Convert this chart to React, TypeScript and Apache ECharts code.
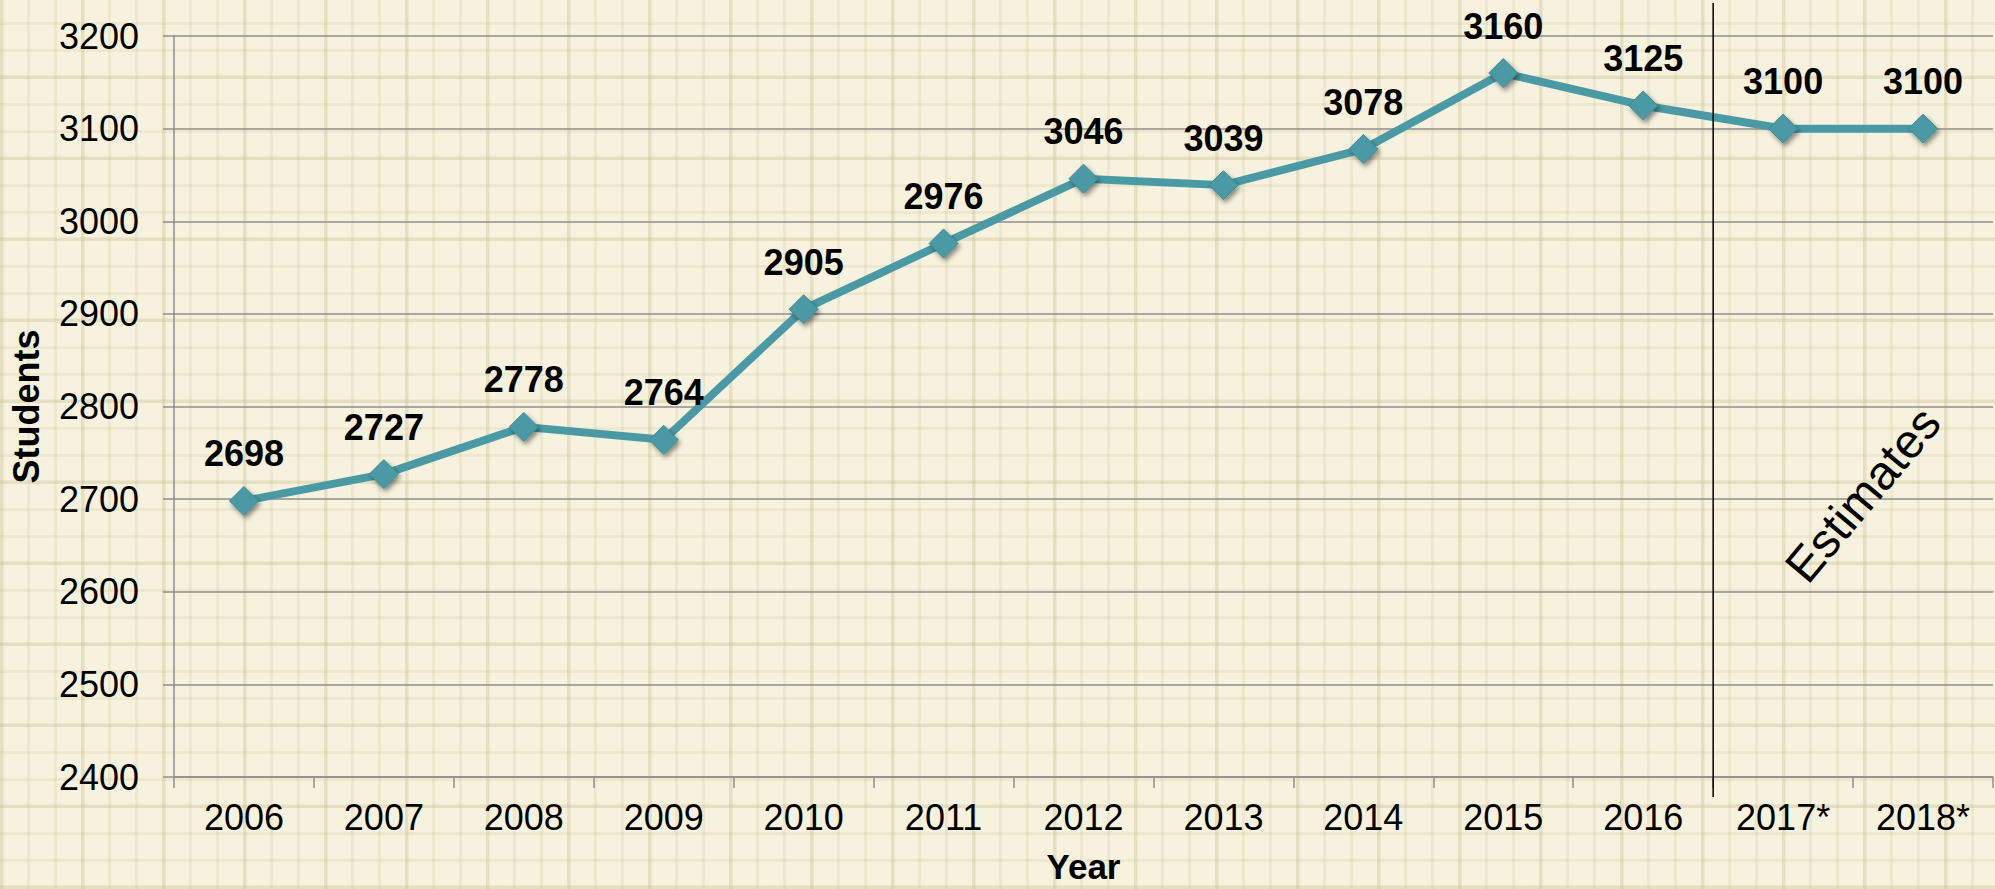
import React, { useEffect, useRef } from "react";
import * as echarts from "echarts";

const years = ["2006", "2007", "2008", "2009", "2010", "2011", "2012", "2013", "2014", "2015", "2016", "2017*", "2018*"];
const students = [2698, 2727, 2778, 2764, 2905, 2976, 3046, 3039, 3078, 3160, 3125, 3100, 3100];
const yMin = 2400;
const yMax = 3200;
const yStep = 100;
const estimateLabel = "Estimates";
const estimateStart = "2017*";
const estimateLastActual = "2016";

const FONT = "'Liberation Sans', Arial, sans-serif";
const LINE_COLOR = "#4a9aa5";
const GRID_COLOR = "#8e8e8e";

export default function App() {
  const ref = useRef<HTMLDivElement>(null);

  useEffect(() => {
    if (!ref.current) return;
    const chart = echarts.init(ref.current, null, { renderer: "svg" });
    chart.setOption({
      animation: false,
      backgroundColor: "transparent",
      grid: { left: 173, right: 2, top: 36, bottom: 112 },
      xAxis: {
        type: "category",
        data: years,
        boundaryGap: true,
        name: "Year",
        nameLocation: "middle",
        nameGap: 72,
        nameTextStyle: { fontFamily: FONT, fontSize: 35, fontWeight: "bold", color: "#000" },
        axisLine: { show: true, lineStyle: { color: GRID_COLOR, width: 1.5 } },
        axisTick: { show: true, alignWithLabel: false, length: 11, lineStyle: { color: GRID_COLOR, width: 1.5 } },
        axisLabel: { fontFamily: FONT, fontSize: 36, color: "#000", margin: 22, interval: 0 },
        splitLine: { show: false },
      },
      yAxis: {
        type: "value",
        min: yMin,
        max: yMax,
        interval: yStep,
        name: "Students",
        nameLocation: "middle",
        nameGap: 130,
        nameTextStyle: { fontFamily: FONT, fontSize: 36, fontWeight: "bold", color: "#000" },
        axisLine: { show: true, lineStyle: { color: GRID_COLOR, width: 1.5 } },
        axisTick: { show: true, length: 11, lineStyle: { color: GRID_COLOR, width: 1.5 } },
        axisLabel: {
          fontFamily: FONT,
          fontSize: 36,
          color: "#000",
          margin: 35,
          formatter: (v: number) => String(v),
        },
        splitLine: { show: true, lineStyle: { color: GRID_COLOR, width: 1.5 } },
      },
      series: [
        {
          type: "line",
          data: students,
          symbol: "diamond",
          symbolSize: 29,
          lineStyle: { color: LINE_COLOR, width: 8 },
          itemStyle: {
            color: LINE_COLOR,
            borderColor: "#3f8a94",
            borderWidth: 1,
            shadowBlur: 5,
            shadowColor: "rgba(0,0,0,0.45)",
            shadowOffsetX: 2,
            shadowOffsetY: 3,
          },
          label: {
            show: true,
            position: "top",
            distance: 14,
            fontFamily: FONT,
            fontSize: 36,
            fontWeight: "bold",
            color: "#000",
          },
          z: 3,
        },
      ],
    });

    const xa = chart.convertToPixel({ xAxisIndex: 0 }, estimateLastActual) as number;
    const xb = chart.convertToPixel({ xAxisIndex: 0 }, estimateStart) as number;
    const xDiv = (xa + xb) / 2;
    const step = xb - xa;
    const yBottom = chart.convertToPixel({ yAxisIndex: 0 }, yMin) as number;
    const yMid = chart.convertToPixel({ yAxisIndex: 0 }, 2705) as number;

    chart.setOption({
      graphic: [
        {
          type: "line",
          shape: { x1: xDiv, y1: 3, x2: xDiv, y2: yBottom + 20 },
          style: { stroke: "#000", lineWidth: 1.5 },
          z: 10,
        },
        {
          type: "text",
          x: xb + step * 0.57,
          y: yMid,
          rotation: (50 * Math.PI) / 180,
          style: {
            text: estimateLabel,
            fontFamily: FONT,
            fontSize: 48,
            fill: "#000",
            align: "center",
            verticalAlign: "middle",
          },
          z: 10,
        },
      ],
    });

    return () => chart.dispose();
  }, []);

  const bg: React.CSSProperties = {
    position: "fixed",
    left: 0,
    top: 0,
    width: 1995,
    height: 889,
    backgroundColor: "#f6f2de",
    backgroundImage: [
      "repeating-linear-gradient(90deg, rgba(200,190,140,0.2) 0px, rgba(200,190,140,0.2) 3px, transparent 3px, transparent 27px)",
      "repeating-linear-gradient(0deg, rgba(200,190,140,0.2) 0px, rgba(200,190,140,0.2) 3px, transparent 3px, transparent 27px)",
      "repeating-linear-gradient(90deg, rgba(190,180,130,0.16) 0px, rgba(190,180,130,0.16) 4px, transparent 4px, transparent 81px)",
      "repeating-linear-gradient(0deg, rgba(190,180,130,0.16) 0px, rgba(190,180,130,0.16) 4px, transparent 4px, transparent 81px)",
    ].join(","),
  };

  return (
    <div style={bg}>
      <div ref={ref} style={{ width: 1995, height: 889 }} />
    </div>
  );
}
